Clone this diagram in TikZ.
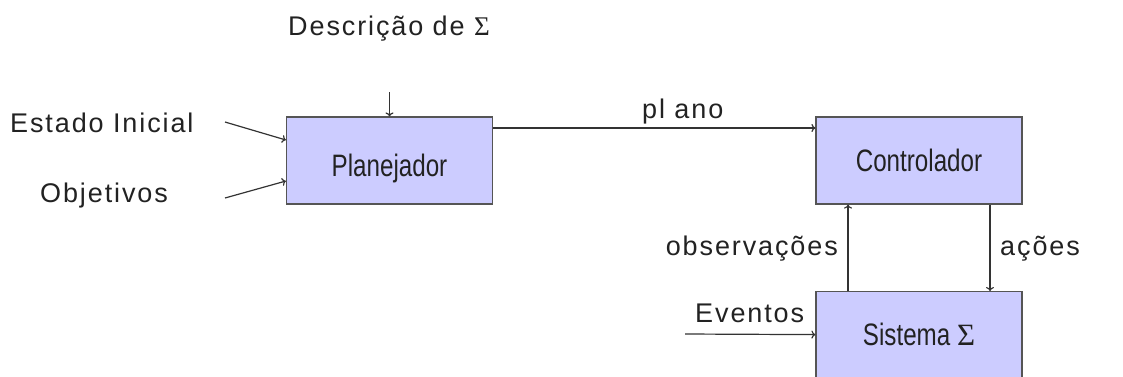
\documentclass[tikz,border=0pt]{standalone}
\usepackage{fontspec}
\setmainfont{Liberation Sans}
\newfontfamily\labfont[LetterSpace=7]{Liberation Sans}
\newfontfamily\boxfont[FakeStretch=0.78]{Liberation Sans}
\newfontfamily\sigfont{Liberation Serif}
\newcommand{\mysig}{{\sigfont Σ}}
\usetikzlibrary{arrows.meta,calc}
\definecolor{boxfill}{HTML}{CCCCFF}
\definecolor{boxline}{HTML}{555555}
\definecolor{arr}{HTML}{333333}
\definecolor{txt}{HTML}{222222}
\begin{document}
\begin{tikzpicture}[x=1pt,y=-1pt,
  block/.style={draw=boxline,line width=1.2pt,fill=boxfill,minimum width=206pt,inner sep=0pt,text=txt},
  lab/.style={font=\labfont\fontsize{27}{30}\selectfont,text=txt,inner sep=0pt},
  btxt/.style={font=\boxfont\fontsize{31}{34}\selectfont,text=txt,inner sep=0pt},
  conn/.style={draw=arr,line width=1.2pt,-{To[length=4pt,width=8pt]}}]
\useasboundingbox (0,0) rectangle (1123,376);
\begin{scope}
\clip (0,0) rectangle (1123,376);
\node[block,minimum height=87pt] (plan) at (389.5,160.5) {};
\node[block,minimum height=87pt] (ctrl) at (919,160.5) {};
\node[block,minimum height=90pt,anchor=north] (sys) at (919,291) {};
\end{scope}
\node[btxt,anchor=base] (tplan) at (389.5,176) {Planejador};
\node[btxt,anchor=base] (tctrl) at (919,171) {Controlador};
\node[btxt,anchor=base] (tsys) at (919,345) {Sistema \mysig};
\node[lab,anchor=base] (desc) at (389,35) {Descrição de \mysig};
\node[lab,anchor=base west] (est) at (10,132) {Estado Inicial};
\node[lab,anchor=base west] (obj) at (40,202) {Objetivos};
\node[lab,anchor=base west] (pl) at (642,118) {pl ano};
\node[lab,anchor=base east] (obs) at (838,255) {observações};
\node[lab,anchor=base west] (acs) at (1000,255) {ações};
\node[lab,anchor=base west] (evt) at (695,322) {Eventos};
\coordinate (dstart) at (389.5,92);
\coordinate (estart) at (225,122);
\coordinate (ostart) at (225,198);
\coordinate (evstart) at (685,334);
\draw[conn] (dstart) -- (plan.north);
\draw[conn] (estart) -- ([yshift=20.5pt]plan.west);
\draw[conn] (ostart) -- ([yshift=-20.5pt]plan.west);
\draw[conn] ([yshift=32.5pt]plan.east) -- ([yshift=32.5pt]ctrl.west);
\draw[conn] ([xshift=-71pt]sys.north) -- ([xshift=-71pt]ctrl.south);
\draw[conn] ([xshift=71pt]ctrl.south) -- ([xshift=71pt]sys.north);
\draw[conn] (evstart) -- ([yshift=2pt]sys.west);
\end{tikzpicture}
\end{document}
